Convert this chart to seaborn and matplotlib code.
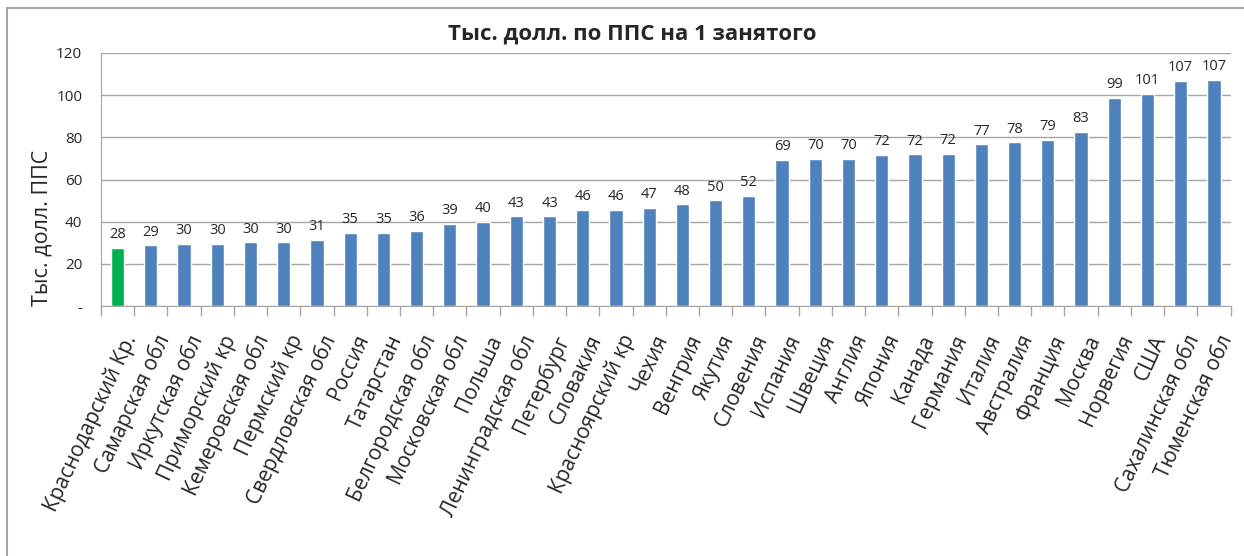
import matplotlib
matplotlib.use("Agg")
import matplotlib.pyplot as plt
import matplotlib.ticker as mticker
import matplotlib.transforms as mtransforms
from matplotlib.patches import Rectangle
import seaborn as sns
import numpy as np

regions = ['Краснодарский Кр.', 'Самарская обл', 'Иркутская обл', 'Приморский кр',
           'Кемеровская обл', 'Пермский кр', 'Свердловская обл', 'Россия', 'Татарстан',
           'Белгородская обл', 'Московская обл', 'Польша', 'Ленинградская обл', 'Петербург',
           'Словакия', 'Красноярский кр', 'Чехия', 'Венгрия', 'Якутия', 'Словения',
           'Испания', 'Швеция', 'Англия', 'Япония', 'Канада', 'Германия', 'Италия',
           'Австралия', 'Франция', 'Москва', 'Норвегия', 'США', 'Сахалинская обл',
           'Тюменская обл']
values = [27.7, 28.9, 29.6, 29.6, 30.3, 30.3, 31.3, 34.8, 34.8, 35.8, 39.0, 40.0,
          42.6, 42.6, 45.6, 45.7, 46.6, 48.3, 50.2, 52.2, 69.3, 69.9, 69.9, 71.6,
          71.9, 72.3, 76.8, 77.6, 78.9, 82.6, 98.8, 100.7, 106.7, 107.2]
highlight = 'Краснодарский Кр.'

blue = '#4F81BD'
green = '#00B050'
colors = [green if r == highlight else blue for r in regions]

sns.set_style('white')
plt.rcParams['font.family'] = ['Open Sans', 'DejaVu Sans']

fig = plt.figure(figsize=(12.44, 5.56), dpi=100)
ax = fig.add_axes([0.0812, 0.4496, 0.908, 0.4551])

sns.barplot(x=regions, y=values, hue=regions, palette=colors, legend=False,
            width=0.4, saturation=1, ax=ax)

for cont in ax.containers:
    ax.bar_label(cont, fmt='%.0f', padding=4, fontsize=10.5)

ax.set_ylim(0, 120)
ax.set_xlim(-0.5, len(regions) - 0.5)
ax.yaxis.set_major_locator(mticker.MultipleLocator(20))
ax.yaxis.set_major_formatter(mticker.FuncFormatter(lambda v, p: '-' if v == 0 else f'{v:.0f}'))
ax.yaxis.grid(True, color='#A6A6A6', linewidth=1)
ax.set_axisbelow(True)

# category separators as ticks, like Excel
ax.set_xticks(np.arange(len(regions)))
ax.set_xticklabels(regions, rotation=65, ha='right', rotation_mode='anchor', fontsize=15)
ax.set_xticks(np.arange(len(regions) + 1) - 0.5, minor=True)
ax.tick_params(axis='x', which='major', length=0, pad=14)
ax.tick_params(axis='x', which='minor', length=7, color='#A6A6A6', width=1, direction='out', bottom=True)
ax.tick_params(axis='y', length=0, labelsize=11, pad=13.5)
shift = mtransforms.ScaledTranslation(4 / 100, -6 / 100, fig.dpi_scale_trans)
for lab in ax.get_xticklabels():
    lab.set_transform(lab.get_transform() + shift)

for s in ['top', 'right']:
    ax.spines[s].set_visible(False)
for s in ['left', 'bottom']:
    ax.spines[s].set_color('#A6A6A6')

ax.set_ylabel('Тыс. долл. ППС', fontsize=15.5)
ax.yaxis.set_label_coords(-0.043, 0.308)
ax.set_title('Тыс. долл. по ППС на 1 занятого', fontsize=16, fontweight='bold', pad=10, x=0.47)

fig.patches.append(Rectangle((7 / 1244, -0.1), 1.2, (556 - 8) / 556 + 0.1,
                             transform=fig.transFigure, fill=False,
                             edgecolor='#A6A6A6', linewidth=1.5))

fig.savefig('out.png', dpi=100)
